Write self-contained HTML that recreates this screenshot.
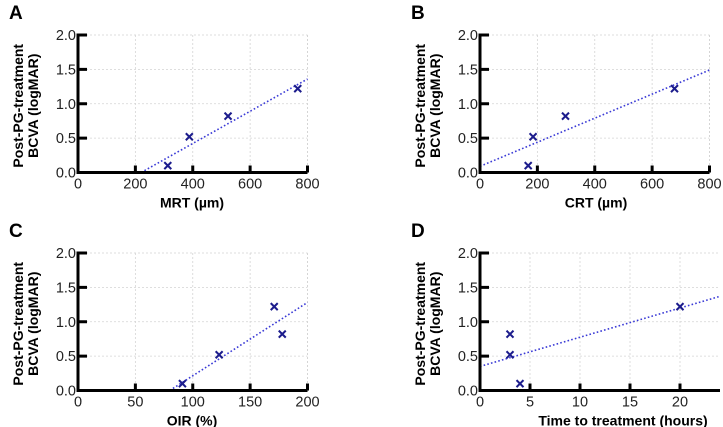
<!DOCTYPE html>
<html><head><meta charset="utf-8"><style>
html,body{margin:0;padding:0;background:#fff;}
svg{display:block;font-family:"Liberation Sans",Arial,sans-serif;}
</style></head><body>
<svg id="chart" width="723" height="427" viewBox="0 0 723 427"></svg>
<script>
// Panel A data (MRT)
const aX = [313, 388, 523, 766];
const aY = [0.10, 0.52, 0.82, 1.22];
const aFit = [0.002345, -0.516];
const aTicks = [0, 200, 400, 600, 800];
// Panel B data (CRT)
const bX = [168, 185, 298, 678];
const bY = [0.10, 0.52, 0.82, 1.22];
const bFit = [0.00175, 0.09];
const bTicks = [0, 200, 400, 600, 800];
// Panel C data (OIR)
const cX = [91, 123, 171, 178];
const cY = [0.10, 0.52, 1.22, 0.82];
const cFit = [0.01067, -0.853];
const cTicks = [0, 50, 100, 150, 200];
// Panel D data (time to treatment)
const dX = [3, 3, 4, 20];
const dY = [0.82, 0.52, 0.10, 1.22];
const dFit = [0.0425, 0.35];
const dTicks = [0, 5, 10, 15, 20];
const yTicks = [0.0, 0.5, 1.0, 1.5, 2.0];

const NS = "http://www.w3.org/2000/svg";
const svg = document.getElementById("chart");
function mk(tag, attrs, parent, text) {
  const e = document.createElementNS(NS, tag);
  for (const k in attrs) e.setAttribute(k, attrs[k]);
  if (text !== undefined) e.textContent = text;
  parent.appendChild(e);
  return e;
}

function panel(id, letter, ox, oy, xmax, xT, xs, ys, fit, xlabel, xlabelX) {
  const g = mk("g", {}, svg);
  
  
  const L = ox, T = oy, B = oy + 137.5;
  const W = (id === 'd') ? 240 : 229.5;
  const xScale = v => L + v / xmax * W;
  const yScale = v => B - v / 2 * (B - T);
  const lt = mk("text", {x: ox - 69, y: oy - 16, "font-size": 19, "font-weight": "bold"}, g, letter);
  
  
  const grid = mk("g", {stroke: "#d4d4d4", "stroke-width": 0.8, "stroke-dasharray": "2,2"}, g);
  
  
  yTicks.forEach(t => { if (t > 0) mk("line", {x1: L, x2: L + W, y1: yScale(t), y2: yScale(t)}, grid); });
  xT.forEach(t => { if (t > 0) mk("line", {x1: xScale(t), x2: xScale(t), y1: T, y2: B}, grid); });
  if (id !== 'd') mk("line", {x1: L + W, x2: L + W, y1: T, y2: B}, grid);
  const x0 = Math.max(0, -fit[1] / fit[0]);
  const fl = mk("line", {x1: xScale(x0), y1: yScale(fit[0] * x0 + fit[1]), x2: xScale(xmax), y2: yScale(fit[0] * xmax + fit[1]), stroke: "#3a3ad6", "stroke-width": 1.6, "stroke-dasharray": "1.6,2.2"}, g);
  
  
  const ax = mk("g", {stroke: "#000", "stroke-width": 3}, g);
  
  
  mk("line", {x1: L, x2: L, y1: T - 1.5, y2: B + 1.5}, ax);
  mk("line", {x1: L, x2: L + W, y1: B, y2: B}, ax);
  yTicks.forEach(t => {
    mk("line", {x1: L, x2: L + 9, y1: yScale(t), y2: yScale(t)}, ax);
    const tl = mk("text", {x: L - 2, y: yScale(t) + 5, "font-size": 14.5, "text-anchor": "end", fill: "#222", stroke: "none"}, g, t.toFixed(1));
    
    
  });
  xT.forEach(t => {
    if (t > 0) mk("line", {x1: xScale(t), x2: xScale(t), y1: B, y2: B - 7}, ax);
    const tl = mk("text", {x: xScale(t), y: B + 16, "font-size": 14.5, "text-anchor": "middle", fill: "#222"}, g, String(t));
    
    
  });
  if (id !== 'd') mk("line", {x1: L + W, x2: L + W, y1: B, y2: B - 7}, ax);
  xs.forEach((x, i) => {
    const cx = xScale(x), cy = yScale(ys[i]);
    const m = mk("path", {d: `M${cx-3.5},${cy-3.5}L${cx+3.5},${cy+3.5}M${cx-3.5},${cy+3.5}L${cx+3.5},${cy-3.5}`, stroke: "#1c1c8c", "stroke-width": 2}, g);
    
    
  });
  const yt = mk("text", {transform: `translate(${ox - 55},${(T + B) / 2 + 2}) rotate(-90)`, "font-size": 14, "font-weight": "bold", "text-anchor": "middle"}, g);
  
  
  mk("tspan", {x: 0, dy: 0}, yt, "Post-PG-treatment");
  mk("tspan", {x: 0, dy: 15}, yt, "BCVA (logMAR)");
  const xt = mk("text", {x: xlabelX, y: B + 35, "font-size": 14, "font-weight": "bold", "text-anchor": "middle"}, g, xlabel);
  
  
}
panel('a', 'A', 78, 35, 800, aTicks, aX, aY, aFit, "MRT (µm)", 192);
panel('b', 'B', 480, 35, 800, bTicks, bX, bY, bFit, "CRT (µm)", 596);
panel('c', 'C', 78, 253, 200, cTicks, cX, cY, cFit, "OIR (%)", 192);
panel('d', 'D', 480, 253, 24, dTicks, dX, dY, dFit, "Time to treatment (hours)", 623);
</script>
</body></html>
